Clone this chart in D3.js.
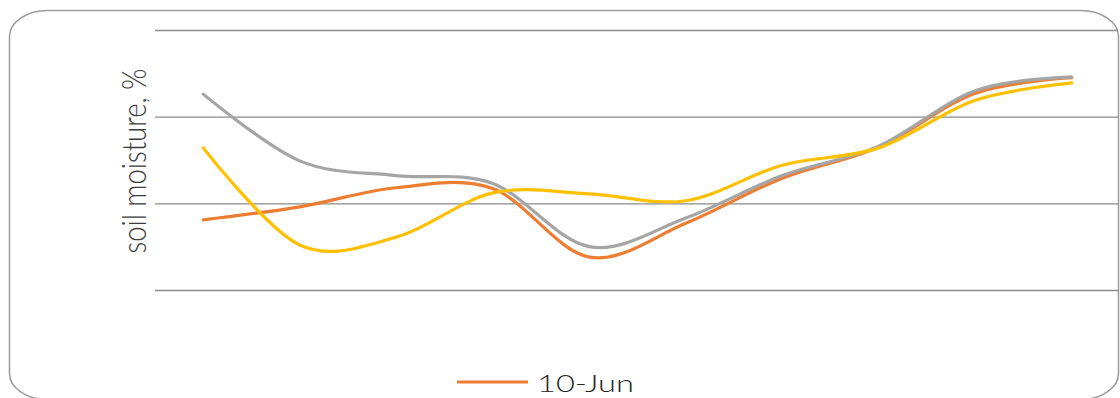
<!DOCTYPE html>
<html>
<head>
<meta charset="utf-8">
<script src="https://cdn.jsdelivr.net/npm/d3@7/dist/d3.min.js"></script>
<style>
  html, body { margin: 0; padding: 0; background: #ffffff; }
  svg { display: block; }
</style>
</head>
<body>
<svg id="chart" width="1120" height="398"></svg>
<script>
// Sampling points along the transect
const categories = ["1", "2", "3", "4", "5", "6", "7", "8", "9", "10"];

// Soil moisture (%) per sampling date
const jun10 = [18.1, 19.6, 21.8, 21.7, 13.8, 17.7, 22.9, 26.5, 32.7, 34.5];
const jun20 = [32.6, 24.9, 23.2, 22.3, 15.0, 18.3, 23.2, 26.6, 33.0, 34.6];
const jun30 = [26.4, 15.2, 16.1, 21.2, 21.1, 20.3, 24.4, 26.4, 31.9, 33.9];

const seriesNames = ["10-Jun", "20-Jun", "30-Jun"];
const gridValues = [10, 20, 30, 40];
const axisTitle = "soil moisture, %";

const series = [
  { name: seriesNames[0], values: jun10, color: "#ED7D31" },
  { name: seriesNames[1], values: jun20, color: "#A5A5A5" },
  { name: seriesNames[2], values: jun30, color: "#FFC000" }
];

const svg = d3.select("#chart");
const FONT = "Lato, 'Open Sans', 'DejaVu Sans', sans-serif";

// Outer chart frame with rounded corners
svg.append("rect")
  .attr("x", 9.5).attr("y", 10.5)
  .attr("width", 1109).attr("height", 389)
  .attr("rx", 38).attr("ry", 26)
  .attr("fill", "#ffffff")
  .attr("stroke", "#9a9a9a")
  .attr("stroke-width", 1.5);

// Scales: categories placed in the middle of each band
const x = d3.scalePoint()
  .domain(categories)
  .range([155, 1120])
  .padding(0.5);

const y = d3.scaleLinear()
  .domain([10, 40])
  .range([290, 30]);

// Horizontal gridlines
const yAxis = d3.axisLeft(y)
  .tickValues(gridValues)
  .tickSize(-(1118 - 155))
  .tickFormat("");

const gAxis = svg.append("g")
  .attr("transform", "translate(155,0)")
  .call(yAxis);
gAxis.select(".domain").remove();
gAxis.selectAll(".tick line")
  .attr("stroke", "#8a8a8a")
  .attr("stroke-width", 1.4);

// Smoothed lines
const line = d3.line()
  .x((d, i) => x(categories[i]))
  .y(d => y(d))
  .curve(d3.curveCardinal.tension(0));

svg.append("g").selectAll("path")
  .data(series)
  .join("path")
  .attr("d", d => line(d.values))
  .attr("fill", "none")
  .attr("stroke", d => d.color)
  .attr("stroke-width", 3.2)
  .attr("stroke-linejoin", "round")
  .attr("stroke-linecap", "round");

// Vertical axis title, stretched to the frame's proportions
const title = svg.append("text")
  .attr("font-family", FONT)
  .attr("font-size", 33)
  .attr("font-weight", 300)
  .attr("fill", "#3c3c3c")
  .attr("text-anchor", "middle")
  .text(axisTitle);
const titleLen = title.node().getComputedTextLength();
title.attr("transform",
  `translate(146,161) rotate(-90) scale(${185 / titleLen},1)`);

// Legend entry for the first series
const lg = svg.append("g");
lg.append("line")
  .attr("x1", 457).attr("x2", 528)
  .attr("y1", 382).attr("y2", 382)
  .attr("stroke", series[0].color)
  .attr("stroke-width", 3.2);
const lt = lg.append("text")
  .attr("font-family", FONT)
  .attr("font-size", 24)
  .attr("font-weight", 300)
  .attr("fill", "#262626")
  .text(series[0].name);
const ltLen = lt.node().getComputedTextLength();
lt.attr("transform", `translate(537,392) scale(${97 / ltLen},1)`);
</script>
</body>
</html>
